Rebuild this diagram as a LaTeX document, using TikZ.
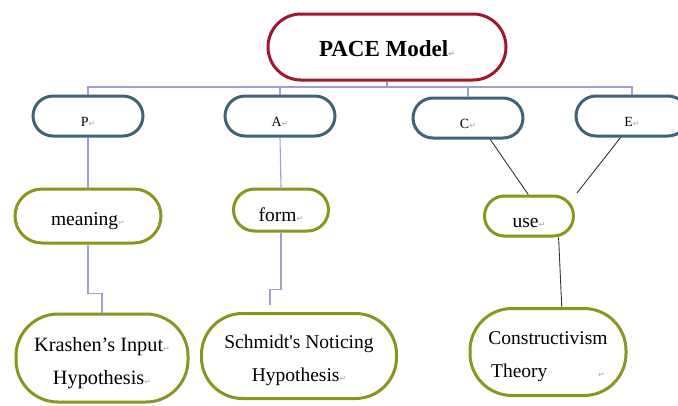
\documentclass[tikz,border=0pt]{standalone}
\usepackage{fontspec}
\setmainfont{Liberation Serif}[Ligatures=TeXOff]
\newfontfamily\symfont{DejaVu Sans}
\definecolor{pacered}{HTML}{A3172D}
\definecolor{paceblue}{HTML}{3F6478}
\definecolor{paceolive}{HTML}{8C9420}
\definecolor{treeline}{HTML}{9E9ED2}
\definecolor{linkline}{HTML}{333333}
\definecolor{retgray}{HTML}{AAAAAA}
\newcommand\retmark{{\symfont\color{retgray}\fontsize{8}{8}\selectfont ↵}}
\newcommand\dnstrut[1]{\rule{0pt}{#1}}
\tikzset{
  pill/.style={draw, line width=3pt, inner sep=0pt, align=center, fill=white},
  redpill/.style={pill, draw=pacered},
  bluepill/.style={pill, draw=paceblue, font=\fontsize{14}{16}\selectfont},
  olivepill/.style={pill, draw=paceolive, font=\fontsize{19.5}{33}\selectfont},
  tree/.style={draw=treeline, line width=1.1pt},
  link/.style={draw=linkline, line width=0.9pt},
}
\begin{document}
\begin{tikzpicture}[x=1pt,y=-1pt]
\useasboundingbox (0,0) rectangle (678,405);
\clip (0,0) rectangle (678,405);
% nodes
\node[redpill, minimum width=238pt, minimum height=66pt, rounded corners=33pt,
      font=\fontsize{23}{25}\selectfont\bfseries] (pace) at (387,47) {\dnstrut{19pt}PACE Model\retmark};
\node[bluepill, minimum width=110pt, minimum height=40pt, rounded corners=20pt] (P) at (88,116) {\dnstrut{21pt}P\retmark};
\node[bluepill, minimum width=110pt, minimum height=40pt, rounded corners=20pt] (A) at (280,116) {\dnstrut{21pt}A\retmark};
\node[bluepill, minimum width=110pt, minimum height=40pt, rounded corners=20pt] (C) at (468,118) {\dnstrut{21pt}C\retmark};
\node[bluepill, minimum width=112pt, minimum height=40pt, rounded corners=20pt] (E) at (632,116) {\dnstrut{21pt}E\retmark};
\node[olivepill, minimum width=146pt, minimum height=54pt, rounded corners=27pt] (meaning) at (88,216) {\dnstrut{23pt}meaning\retmark};
\node[olivepill, minimum width=95pt, minimum height=42pt, rounded corners=21pt] (form) at (281,210) {\dnstrut{23pt}form\retmark};
\node[olivepill, minimum width=89pt, minimum height=40pt, rounded corners=20pt] (use) at (529,216) {\dnstrut{23pt}use\retmark};
\node[olivepill, minimum width=172pt, minimum height=88pt, rounded corners=42pt,
      font=\fontsize{20.3}{33}\selectfont] (krashen) at (102,358) {\dnstrut{24pt}Krashen’s Input\retmark\\Hypothesis\retmark};
\node[olivepill, minimum width=195pt, minimum height=85pt, rounded corners=41pt] (schmidt) at (299,356) {\dnstrut{23pt}Schmidt's Noticing\\Hypothesis\retmark};
\node[olivepill, minimum width=156pt, minimum height=87pt, rounded corners=42pt] (constr) at (548,352) {\dnstrut{23pt}Constructivism\\Theory\hspace{2.6em}\retmark};
% tree connectors
\coordinate (bus) at (387,87);
\draw[tree] (pace.south) -- (bus) -| (P.north);
\draw[tree] (bus) -| (A.north);
\draw[tree] (bus) -| (C.north);
\draw[tree] (bus) -| (E.north);
\draw[tree] (P.south) -- (meaning.north);
\draw[tree] (A.south) -- (form.north);
\draw[tree] (meaning.south) -- ++(0,49) -| (krashen.north);
\coordinate (fend) at (270,305);
\draw[tree] (form.south) -- ++(0,57) -| (fend);
% black links
\coordinate (eend) at (577,193);
\draw[link] (C.-44) -- (use.92);
\draw[link] (E.-118) -- (eend);
\draw[link] (use.-36) -- (constr.73);
\end{tikzpicture}
\end{document}
